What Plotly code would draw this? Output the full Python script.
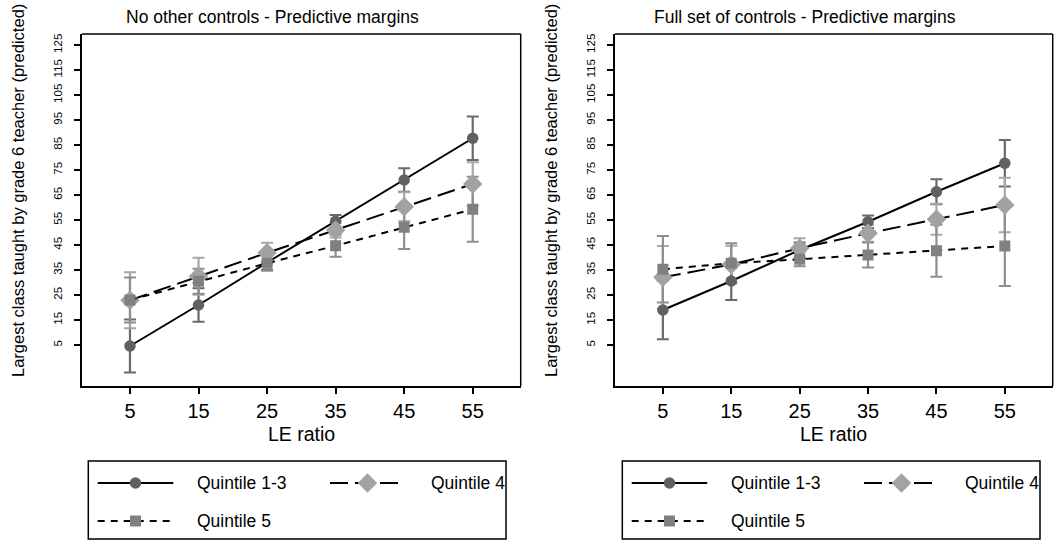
import plotly.graph_objects as go

# LE ratio values on the x axis
le_ratio = [5, 15, 25, 35, 45, 55]
x_ticks = [5, 15, 25, 35, 45, 55]
y_ticks = [5, 15, 25, 35, 45, 55, 65, 75, 85, 95, 105, 115, 125]

# Predictive margins, no other controls
q13_nc = [4.6, 21.0, 38.0, 54.5, 71.0, 87.7]
q13_nc_ci = [10.6, 6.7, 3.0, 2.5, 4.7, 8.7]
q4_nc = [22.9, 32.5, 41.9, 51.0, 60.3, 69.4]
q4_nc_ci = [11.2, 7.4, 4.0, 3.0, 5.8, 8.7]
q5_nc = [23.0, 30.5, 37.7, 44.7, 52.1, 59.3]
q5_nc_ci = [9.0, 5.0, 3.0, 4.4, 8.7, 13.0]

# Predictive margins, full set of controls
q13_fc = [19.0, 30.6, 43.0, 54.3, 66.3, 77.7]
q13_fc_ci = [11.7, 7.6, 3.0, 2.5, 5.0, 9.3]
q4_fc = [32.1, 37.2, 43.7, 49.7, 55.3, 61.0]
q4_fc_ci = [12.5, 7.5, 4.0, 3.4, 6.2, 10.9]
q5_fc = [35.3, 37.7, 39.3, 41.0, 42.7, 44.6]
q5_fc_ci = [13.3, 8.0, 2.8, 5.0, 10.4, 16.0]

series_names = ["Quintile 1-3", "Quintile 4", "Quintile 5"]
panel_titles = ["No other controls - Predictive margins",
                "Full set of controls - Predictive margins"]
y_title = "Largest class taught by grade 6 teacher (predicted)"
x_title = "LE ratio"

FONT = "Liberation Sans, Arial, sans-serif"
W, H = 1056, 540

styles = [
    dict(marker="circle", msize=11.5, mcolor="#616161", ecolor="#6a6a6a", dash="solid"),
    dict(marker="diamond", msize=15, mcolor="#a2a2a2", ecolor="#a8a8a8", dash="18px,7px"),
    dict(marker="square", msize=11, mcolor="#808080", ecolor="#8e8e8e", dash="7px,6px"),
]

# Panel placement in pixels (left edge, right edge), shared vertical extent
panels_px = [(82, 520.7), (615, 1052.7)]
plot_top, plot_bottom = 34, 386

fig = go.Figure()

panel_data = [
    [(q13_nc, q13_nc_ci), (q4_nc, q4_nc_ci), (q5_nc, q5_nc_ci)],
    [(q13_fc, q13_fc_ci), (q4_fc, q4_fc_ci), (q5_fc, q5_fc_ci)],
]

for p, series in enumerate(panel_data):
    xa = "x" if p == 0 else "x2"
    ya = "y" if p == 0 else "y2"
    # confidence intervals first (under lines and markers)
    for s, (vals, ci) in enumerate(series):
        st = styles[s]
        fig.add_trace(go.Scatter(
            x=le_ratio, y=vals, mode="markers", xaxis=xa, yaxis=ya,
            marker=dict(size=1, color="rgba(0,0,0,0)"),
            error_y=dict(type="data", array=ci, visible=True,
                         color=st["ecolor"], thickness=2.2, width=6),
            showlegend=False, hoverinfo="skip"))
    for s, (vals, ci) in enumerate(series):
        st = styles[s]
        fig.add_trace(go.Scatter(
            x=le_ratio, y=vals, mode="lines+markers", xaxis=xa, yaxis=ya,
            name=series_names[s],
            line=dict(color="black", width=2, dash=st["dash"]),
            marker=dict(symbol=st["marker"], size=st["msize"], color=st["mcolor"],
                        line=dict(width=0)),
            showlegend=False))

axis_common_x = dict(range=[-2, 62], tickmode="array", tickvals=x_ticks,
                     ticks="outside", ticklen=6, tickwidth=1.5, tickcolor="black",
                     showline=True, linewidth=2, linecolor="black",
                     showgrid=False, zeroline=False,
                     tickfont=dict(family=FONT, size=20, color="black"))
axis_common_y = dict(range=[-11.4, 129.4], tickmode="array", tickvals=y_ticks,
                     ticks="outside", ticklen=6, tickwidth=1.5, tickcolor="black",
                     showline=True, linewidth=2, linecolor="black",
                     showgrid=False, zeroline=False, tickangle=-90,
                     ticklabelstandoff=7,
                     tickfont=dict(family=FONT, size=11.5, color="black"))

ydom = [(H - plot_bottom) / H, (H - plot_top) / H]
fig.update_layout(
    xaxis=dict(domain=[panels_px[0][0] / W, panels_px[0][1] / W], anchor="y", **axis_common_x),
    yaxis=dict(domain=ydom, anchor="x", **axis_common_y),
    xaxis2=dict(domain=[panels_px[1][0] / W, panels_px[1][1] / W], anchor="y2", **axis_common_x),
    yaxis2=dict(domain=ydom, anchor="x2", **axis_common_y),
    # pixel-space overlay used for the legend keys
    xaxis3=dict(domain=[0, 1], range=[0, W], visible=False, anchor="y3", fixedrange=True),
    yaxis3=dict(domain=[0, 1], range=[H, 0], visible=False, anchor="x3", fixedrange=True),
    width=W, height=H,
    margin=dict(l=0, r=0, t=0, b=0),
    paper_bgcolor="white", plot_bgcolor="rgba(0,0,0,0)",
    font=dict(family=FONT, color="black"),
    showlegend=False,
)

shapes = []
annotations = []
for p, (x0, x1) in enumerate(panels_px):
    xref = "x domain" if p == 0 else "x2 domain"
    yref = "y domain" if p == 0 else "y2 domain"
    # top and right frame lines
    shapes.append(dict(type="line", xref=xref, yref=yref, x0=0, x1=1, y0=1, y1=1,
                       line=dict(color="black", width=1.5)))
    shapes.append(dict(type="line", xref=xref, yref=yref, x0=1, x1=1, y0=0, y1=1,
                       line=dict(color="black", width=1.5)))
    cx = (x0 + x1) / 2
    annotations.append(dict(text=panel_titles[p], x=(cx - 29) / W, y=1 - 17 / H, xref="paper", yref="paper",
                            showarrow=False, xanchor="center", yanchor="middle",
                            font=dict(family=FONT, size=17.5, color="black")))
    annotations.append(dict(text=x_title, x=cx / W, y=1 - 434 / H, xref="paper", yref="paper",
                            showarrow=False, xanchor="center", yanchor="middle",
                            font=dict(family=FONT, size=19.5, color="black")))
    annotations.append(dict(text=y_title, x=(x0 - 64) / W, y=1 - 191 / H, xref="paper", yref="paper",
                            showarrow=False, xanchor="center", yanchor="middle", textangle=-90,
                            font=dict(family=FONT, size=16.5, color="black")))

    # legend box and keys
    off = 0 if p == 0 else 534
    bx0, bx1, by0, by1 = 88.3 + off, 506 + off, 461, 539
    shapes.append(dict(type="rect", xref="paper", yref="paper",
                       x0=bx0 / W, x1=bx1 / W, y0=1 - by1 / H, y1=1 - by0 / H,
                       line=dict(color="black", width=1.5), fillcolor="rgba(0,0,0,0)"))
    keys = [(97.7, 173.3, 483, 195), (330, 405, 483, 428.5), (97.7, 173.3, 521, 195)]
    for s, (kx0, kx1, ky, tx) in enumerate(keys):
        st = styles[s]
        fig.add_trace(go.Scatter(
            x=[kx0 + off, kx1 + off], y=[ky, ky], mode="lines", xaxis="x3", yaxis="y3",
            line=dict(color="black", width=2, dash=st["dash"]),
            showlegend=False, hoverinfo="skip"))
        fig.add_trace(go.Scatter(
            x=[(kx0 + kx1) / 2 + off], y=[ky], mode="markers", xaxis="x3", yaxis="y3",
            marker=dict(symbol=st["marker"], size=st["msize"], color=st["mcolor"],
                        line=dict(width=0)),
            showlegend=False, hoverinfo="skip"))
        annotations.append(dict(text=series_names[s], x=(tx + off) / W, y=1 - ky / H,
                                xref="paper", yref="paper", showarrow=False,
                                xanchor="left", yanchor="middle",
                                font=dict(family=FONT, size=17.5, color="black")))

fig.update_layout(shapes=shapes, annotations=annotations)
fig.write_html("out.html")
